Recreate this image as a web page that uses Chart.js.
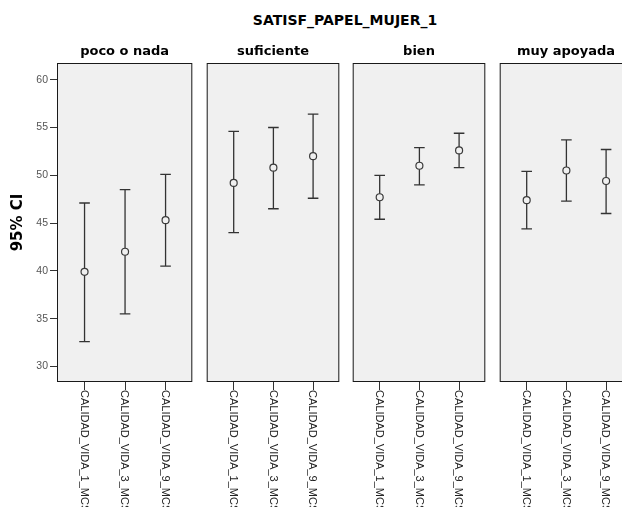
<!DOCTYPE html>
<html><head><meta charset="utf-8">
<script src="https://cdn.jsdelivr.net/npm/chart.js@4"></script>
<style>
html,body{margin:0;padding:0;width:622px;height:507px;overflow:hidden;background:#fff;}
#title{position:absolute;left:195px;top:12px;width:300px;text-align:center;font:bold 14px "DejaVu Sans";line-height:16px;color:#000;white-space:nowrap;}
canvas{position:absolute;top:40px;}
</style></head><body>
<div id="title">SATISF_PAPEL_MUJER_1</div>
<canvas id="c0" width="197" height="467" style="left:0px"></canvas>
<canvas id="c1" width="142" height="467" style="left:202px"></canvas>
<canvas id="c2" width="142" height="467" style="left:348px"></canvas>
<canvas id="c3" width="142" height="467" style="left:495px"></canvas>
<script>
const panelTitles = ['poco o nada', 'suficiente', 'bien', 'muy apoyada'];
const categories = ['CALIDAD_VIDA_1_MCS', 'CALIDAD_VIDA_3_MCS', 'CALIDAD_VIDA_9_MCS'];
const yTicks = [30, 35, 40, 45, 50, 55, 60];

const pocoMean = [39.9, 42.0, 45.3];
const pocoLow  = [32.6, 35.5, 40.5];
const pocoHigh = [47.1, 48.5, 50.1];

const suficienteMean = [49.2, 50.8, 52.0];
const suficienteLow  = [44.0, 46.5, 47.6];
const suficienteHigh = [54.6, 55.0, 56.4];

const bienMean = [47.7, 51.0, 52.6];
const bienLow  = [45.4, 49.0, 50.8];
const bienHigh = [50.0, 52.9, 54.4];

const muyMean = [47.4, 50.5, 49.4];
const muyLow  = [44.4, 47.3, 46.0];
const muyHigh = [50.4, 53.7, 52.7];

const means = [pocoMean, suficienteMean, bienMean, muyMean];
const lows  = [pocoLow, suficienteLow, bienLow, muyLow];
const highs = [pocoHigh, suficienteHigh, bienHigh, muyHigh];

Chart.defaults.font.family = '"Liberation Sans", Arial, sans-serif';

const panelPlugin = {
  id: 'panel',
  beforeDraw(chart) {
    const {ctx, chartArea: a} = chart;
    ctx.save();
    ctx.fillStyle = '#f0f0f0';
    ctx.fillRect(a.left, a.top, a.right - a.left, a.bottom - a.top);
    ctx.restore();
  },
  beforeDatasetsDraw(chart, args, opts) {
    const {ctx, scales: {x, y}} = chart;
    ctx.save();
    ctx.strokeStyle = '#333';
    ctx.lineWidth = 1.3;
    opts.low.forEach((lo, i) => {
      const px = x.getPixelForValue(i);
      const yl = y.getPixelForValue(lo);
      const yh = y.getPixelForValue(opts.high[i]);
      ctx.beginPath();
      ctx.moveTo(px, yl); ctx.lineTo(px, yh);
      ctx.moveTo(px - 5.3, yl); ctx.lineTo(px + 5.3, yl);
      ctx.moveTo(px - 5.3, yh); ctx.lineTo(px + 5.3, yh);
      ctx.stroke();
    });
    ctx.restore();
  },
  afterDraw(chart) {
    const {ctx, chartArea: a, scales: {x}} = chart;
    ctx.save();
    ctx.strokeStyle = '#1a1a1a';
    ctx.lineWidth = 1;
    ctx.strokeRect(a.left + 0.5, a.top + 0.5, a.right - a.left - 1, a.bottom - a.top - 1);
    ctx.fillStyle = '#222';
    ctx.font = '11px "Liberation Sans", Arial, sans-serif';
    ctx.textAlign = 'left';
    ctx.textBaseline = 'middle';
    categories.forEach((c, i) => {
      const px = x.getPixelForValue(i);
      ctx.save();
      ctx.translate(px - 0.8, x.top + 8);
      ctx.rotate(Math.PI / 2);
      ctx.fillText(c, 0, 0);
      ctx.restore();
    });
    ctx.restore();
  }
};

function makePanel(k) {
  const first = k === 0;
  new Chart(document.getElementById('c' + k), {
    type: 'scatter',
    data: {
      datasets: [{
        data: means[k].map((m, i) => ({x: i, y: m})),
        pointStyle: 'circle',
        pointRadius: 3.5,
        pointHoverRadius: 3.5,
        borderWidth: 1.2,
        borderColor: '#3a3a3a',
        backgroundColor: '#f0f0f0'
      }]
    },
    options: {
      responsive: false,
      animation: false,
      events: [],
      layout: {padding: {left: first ? 0 : 2, right: 2, top: 0, bottom: 0}},
      plugins: {
        legend: {display: false},
        tooltip: {enabled: false},
        title: {
          display: true,
          text: panelTitles[k],
          fullSize: false,
          color: '#000',
          font: {family: '"DejaVu Sans"', size: 13, weight: 'bold', lineHeight: '16px'},
          padding: {top: 4, bottom: 3}
        },
        panel: {low: lows[k], high: highs[k]}
      },
      scales: {
        x: {
          type: 'linear',
          min: -0.68,
          max: 2.66,
          afterBuildTicks: s => { s.ticks = categories.map((c, i) => ({value: i})); },
          afterFit: s => { s.height = 125; },
          ticks: {display: false},
          border: {display: false},
          grid: {display: true, drawOnChartArea: false, drawTicks: true, tickLength: 8, tickColor: '#333', tickWidth: 1}
        },
        y: {
          display: first,
          min: 28.37,
          max: 61.75,
          afterBuildTicks: s => { s.ticks = yTicks.map(v => ({value: v})); },
          afterFit: s => { if (first) s.width = 57; },
          ticks: {color: '#555', font: {size: 10.5}, padding: 2},
          border: {display: false},
          grid: {display: true, drawOnChartArea: false, drawTicks: true, tickLength: 7, tickColor: '#333', tickWidth: 1},
          title: {
            display: first,
            text: '95% CI',
            color: '#000',
            font: {family: '"DejaVu Sans"', size: 15, weight: 'bold'},
            padding: {top: 9, bottom: 0}
          }
        }
      }
    },
    plugins: [panelPlugin]
  });
}
[0, 1, 2, 3].forEach(makePanel);
</script>
</body></html>
